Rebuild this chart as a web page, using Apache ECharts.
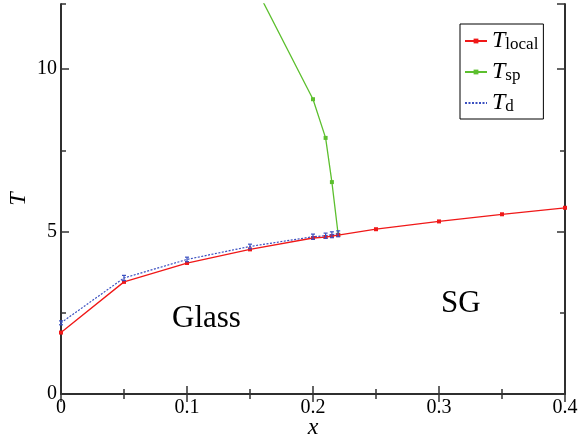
<!DOCTYPE html>
<html>
<head>
<meta charset="utf-8">
<script src="https://cdn.jsdelivr.net/npm/echarts@6/dist/echarts.min.js"></script>
<style>
  html, body { margin: 0; padding: 0; background: #fff; }
  #chart { width: 579px; height: 437px; }
</style>
</head>
<body>
<div id="chart"></div>
<script>
// --- data ---
var localX = [0, 0.05, 0.1, 0.15, 0.2, 0.21, 0.215, 0.22, 0.25, 0.3, 0.35, 0.4];
var localT = [1.89, 3.45, 4.03, 4.45, 4.8, 4.83, 4.86, 4.89, 5.07, 5.31, 5.53, 5.73];

var spX = [0.15, 0.2, 0.21, 0.215, 0.22];
var spT = [12.85, 9.07, 7.88, 6.52, 4.9];

var dX = [0, 0.05, 0.1, 0.15, 0.2, 0.21, 0.215, 0.22];
var dT = [2.19, 3.57, 4.14, 4.54, 4.84, 4.87, 4.9, 4.93];
var dErr = [0.06, 0.08, 0.07, 0.07, 0.08, 0.08, 0.09, 0.09];

var xTicks = [0, 0.1, 0.2, 0.3, 0.4];
var phaseLabels = ['Glass', 'SG'];

(function() {
  var serif = 'Liberation Serif';
  var ink = '#000';
  var red = '#f01818';
  var green = '#5cbf2e';
  var blue = '#3a4fc0';

  function pairs(xs, ys) {
    return xs.map(function(x, i) { return [x, ys[i]]; });
  }

  var chart = echarts.init(document.getElementById('chart'), null, { renderer: 'canvas' });

  var frameLine = { lineStyle: { color: '#222', width: 1.5 } };

  function xAx(pos, labels) {
    return {
      type: 'value', position: pos, min: 0, max: 0.4, interval: 0.1,
      axisLine: frameLine,
      axisTick: { show: true, inside: true, length: 8, lineStyle: { color: '#333', width: 1.5 } },
      minorTick: { show: true, splitNumber: 2, length: 5, lineStyle: { color: '#333', width: 1.5 } },
      axisLabel: labels ? {
        show: true, color: ink, fontFamily: serif, fontSize: 20, margin: 4,
        formatter: function(v) { return xTicks.indexOf(Math.round(v * 10) / 10) >= 0 ? String(Math.round(v * 10) / 10) : ''; }
      } : { show: false },
      splitLine: { show: false },
      name: labels ? 'x' : '',
      nameLocation: 'middle', nameGap: 22, nameMoveOverlap: false,
      nameTextStyle: { fontFamily: serif, fontStyle: 'italic', fontSize: 24, color: ink }
    };
  }

  function yAx(pos, interval, len, labels) {
    return {
      type: 'value', position: pos, min: 0, max: 12, interval: interval,
      axisLine: frameLine,
      axisTick: { show: true, inside: true, length: len, lineStyle: { color: '#333', width: 1.5 } },
      axisLabel: labels ? {
        show: true, color: ink, fontFamily: serif, fontSize: 20, margin: 4, showMaxLabel: false
      } : { show: false },
      splitLine: { show: false },
      name: labels ? 'T' : '',
      nameLocation: 'middle', nameGap: 30, nameRotate: 90, nameMoveOverlap: false,
      nameTextStyle: { fontFamily: serif, fontStyle: 'italic', fontSize: 24, color: ink }
    };
  }

  chart.setOption({
    animation: false,
    backgroundColor: '#fff',
    grid: { left: 61, right: 14, top: 4, bottom: 43, containLabel: false, outerBoundsMode: 'none' },
    xAxis: [xAx('bottom', true), xAx('top', false)],
    yAxis: [
      yAx('left', 5, 8, true),
      yAx('left', 2.5, 5, false),
      yAx('right', 5, 8, false),
      yAx('right', 2.5, 5, false)
    ],
    legend: {
      data: ['T_local', 'T_sp', { name: 'T_d', itemStyle: { opacity: 0 } }],
      orient: 'vertical',
      left: 460, top: 24,
      borderColor: '#000', borderWidth: 1,
      padding: [2, 5, 4, 4],
      itemWidth: 22, itemHeight: 6, itemGap: 4,
      formatter: function(name) {
        return '{t|T}{s|' + name.split('_')[1] + '}';
      },
      textStyle: {
        rich: {
          t: { fontFamily: serif, fontStyle: 'italic', fontSize: 24, color: ink, lineHeight: 24 },
          s: { fontFamily: serif, fontSize: 17, color: ink, verticalAlign: 'bottom', padding: [10, 0, 0, 0], lineHeight: 24 }
        }
      }
    },
    graphic: [
      { type: 'text', left: 172, top: 303, style: { text: phaseLabels[0], font: '31px "Liberation Serif"', fill: ink } },
      { type: 'text', left: 441, top: 288, style: { text: phaseLabels[1], font: '31px "Liberation Serif"', fill: ink } }
    ],
    series: [
      {
        name: 'T_local', type: 'line',
        data: pairs(localX, localT),
        symbol: 'rect', symbolSize: 4,
        itemStyle: { color: red },
        lineStyle: { color: red, width: 1.3 },
        z: 3
      },
      {
        name: 'T_sp', type: 'line',
        data: pairs(spX, spT),
        symbol: 'rect', symbolSize: 4,
        itemStyle: { color: green },
        lineStyle: { color: green, width: 1.3 },
        clip: true,
        z: 2
      },
      {
        name: 'T_d', type: 'line',
        data: pairs(dX, dT),
        symbol: 'none',
        itemStyle: { color: blue },
        lineStyle: { color: blue, width: 1.2, type: [2, 1.5] },
        z: 4
      },
      {
        name: 'T_d err', type: 'custom',
        data: dX.map(function(x, i) { return [x, dT[i] - dErr[i], dT[i] + dErr[i]]; }),
        renderItem: function(params, api) {
          var lo = api.coord([api.value(0), api.value(1)]);
          var hi = api.coord([api.value(0), api.value(2)]);
          var c = 2;
          var st = { stroke: blue, lineWidth: 1.2 };
          return {
            type: 'group',
            children: [
              { type: 'line', shape: { x1: lo[0], y1: lo[1], x2: hi[0], y2: hi[1] }, style: st },
              { type: 'line', shape: { x1: lo[0] - c, y1: lo[1], x2: lo[0] + c, y2: lo[1] }, style: st },
              { type: 'line', shape: { x1: hi[0] - c, y1: hi[1], x2: hi[0] + c, y2: hi[1] }, style: st }
            ]
          };
        },
        z: 5
      }
    ]
  });
})();
</script>
</body>
</html>
